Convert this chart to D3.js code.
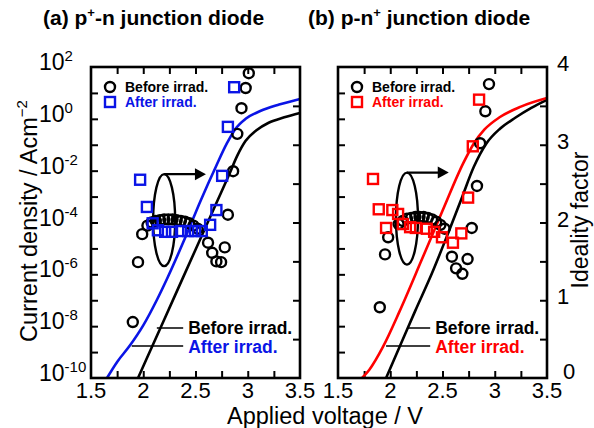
<!DOCTYPE html>
<html>
<head>
<meta charset="utf-8">
<script src="https://cdn.jsdelivr.net/npm/d3@7"></script>
<style>
  body { margin: 0; background: #fff; }
  text { font-family: "Liberation Sans", Arial, sans-serif; }
</style>
</head>
<body>
<div id="chart"></div>
<script>
// tick labels
const voltTicks = [1.5, 2, 2.5, 3, 3.5];
const decadeLabels = [2, 0, -2, -4, -6, -8, -10];
const idealTicks = [0, 1, 2, 3, 4];

// (a) p+-n : ideality factor, before irradiation (circles)
const aBeforeV = [1.90, 1.95, 1.99, 2.04, 2.08, 2.12, 2.16, 2.20, 2.24, 2.28, 2.32, 2.36, 2.40, 2.44, 2.48, 2.52,
                  2.62, 2.66, 2.70, 2.745, 2.78, 2.81, 2.86, 2.90, 2.94, 2.98, 3.01];
const aBeforeN = [0.72, 1.49, 1.85, 1.96, 2.00, 2.02, 2.03, 2.04, 2.04, 2.04, 2.03, 2.02, 2.01, 1.99, 1.96, 1.92,
                  1.74, 1.61, 1.50, 1.49, 1.68, 2.10, 2.66, 3.14, 3.47, 3.73, 3.92];
// (a) ideality factor, after irradiation (squares)
const aAfterV = [1.97, 2.035, 2.09, 2.14, 2.21, 2.275, 2.36, 2.43, 2.495, 2.56, 2.64, 2.70, 2.755, 2.81, 2.87];
const aAfterN = [2.55, 2.20, 1.99, 1.90, 1.88, 1.88, 1.89, 1.89, 1.89, 1.89, 1.97, 2.16, 2.60, 3.23, 3.74];
// (a) current density curves, log10(J)
const aBeforeCurveV = [1.95, 2.1, 2.3, 2.5, 2.7, 2.82, 2.9, 2.98, 3.08, 3.2, 3.35, 3.5];
const aBeforeCurveJ = [-10, -8.65, -6.85, -5.05, -3.25, -2.17, -1.42, -0.85, -0.45, -0.15, 0.06, 0.23];
const aAfterCurveV = [1.653, 1.75, 1.87, 2.0, 2.13, 2.23, 2.4, 2.55, 2.7, 2.8, 2.88, 2.98, 3.12, 3.3, 3.5];
const aAfterCurveJ = [-10, -9.38, -8.76, -7.97, -6.99, -6.15, -4.6, -3.15, -1.8, -0.95, -0.4, 0.0, 0.3, 0.55, 0.77];

// (b) p-n+ : ideality factor, before irradiation (circles)
const bBeforeV = [1.90, 1.95, 1.98, 2.08, 2.12, 2.16, 2.20, 2.24, 2.28, 2.32, 2.36, 2.40, 2.44, 2.48, 2.52,
                  2.59, 2.63, 2.69, 2.74, 2.78, 2.83, 2.86, 2.91, 2.945];
const bBeforeN = [0.91, 1.59, 1.81, 1.98, 2.02, 2.05, 2.06, 2.07, 2.07, 2.07, 2.06, 2.04, 2.01, 1.97, 1.92,
                  1.56, 1.41, 1.34, 1.53, 1.93, 2.47, 3.02, 3.43, 3.78];
// (b) ideality factor, after irradiation (squares)
const bAfterV = [1.835, 1.89, 1.96, 2.02, 2.075, 2.12, 2.19, 2.245, 2.35, 2.42, 2.495, 2.60, 2.68, 2.745, 2.79, 2.85];
const bAfterN = [2.56, 2.17, 1.93, 2.16, 2.11, 1.98, 1.94, 1.93, 1.92, 1.88, 1.81, 1.74, 1.86, 2.32, 2.98, 3.58];
// (b) current density curves, log10(J)
const bBeforeCurveV = [1.96, 2.1, 2.24, 2.4, 2.55, 2.68, 2.8, 2.92, 3.05, 3.2, 3.35, 3.5];
const bBeforeCurveJ = [-10, -8.7, -7.4, -5.95, -4.45, -3.1, -1.85, -0.95, -0.38, 0.05, 0.42, 0.73];
const bAfterCurveV = [1.73, 1.8, 1.93, 2.09, 2.3, 2.5, 2.7, 2.8, 2.9, 3.05, 3.25, 3.5];
const bAfterCurveJ = [-10, -9.68, -8.8, -7.42, -5.45, -3.55, -1.7, -0.95, -0.42, 0.07, 0.47, 0.8];

const W = 594, H = 428;
const plotTop = 67, plotBottom = 378;

const svg = d3.select("#chart").append("svg")
  .attr("width", W).attr("height", H);
svg.append("rect").attr("width", W).attr("height", H).attr("fill", "#fff");

const yJ = d3.scaleLog().domain([1e-10, 1e2]).range([plotBottom, plotTop]);
const yN = d3.scaleLinear().domain([0, 4]).range([plotBottom, plotTop]);

function zip(a, b) { return a.map(function(d, i) { return [d, b[i]]; }); }

function drawPanel(p) {
  var x = d3.scaleLinear().domain([1.5, 3.5]).range(p.range);
  var g = svg.append("g");
  var x0 = p.range[0], x1 = p.range[1];

  // ticks (all inward)
  var tk = function(sel) {
    sel.select(".domain").remove();
    sel.selectAll(".tick line").attr("stroke", "#000").attr("stroke-width", 2);
  };
  g.append("g").attr("transform", "translate(0," + plotBottom + ")")
    .call(d3.axisBottom(x).tickValues(d3.range(1.75, 3.5, 0.25)).tickSize(-7).tickFormat("")).call(tk);
  g.append("g").attr("transform", "translate(0," + plotTop + ")")
    .call(d3.axisTop(x).tickValues(d3.range(1.75, 3.5, 0.25)).tickSize(-7).tickFormat("")).call(tk);
  g.append("g").attr("transform", "translate(" + x0 + ",0)")
    .call(d3.axisLeft(yJ).tickValues(d3.range(-9, 2).map(function(e) { return Math.pow(10, e); }))
      .tickSize(-7).tickFormat("")).call(tk);
  g.append("g").attr("transform", "translate(" + x1 + ",0)")
    .call(d3.axisRight(yN).tickValues(d3.range(0.5, 4, 0.5)).tickSize(-7).tickFormat("")).call(tk);

  // curves
  var line = d3.line()
    .x(function(d) { return x(d[0]); })
    .y(function(d) { return yJ(Math.pow(10, d[1])); })
    .curve(d3.curveMonotoneX);
  g.append("path").datum(zip(p.beforeCurveV, p.beforeCurveJ))
    .attr("d", line).attr("fill", "none").attr("stroke", "#000").attr("stroke-width", 2.6);
  g.append("path").datum(zip(p.afterCurveV, p.afterCurveJ))
    .attr("d", line).attr("fill", "none").attr("stroke", p.color).attr("stroke-width", 2.6);

  // rotation annotation
  var cx = x(p.loop[0]), cy = yN(p.loop[1]);
  g.append("ellipse").attr("cx", cx).attr("cy", cy).attr("rx", 11).attr("ry", 46)
    .attr("fill", "none").attr("stroke", "#000").attr("stroke-width", 2.4);
  var ax1 = x(p.loop[2]);
  g.append("line").attr("x1", cx).attr("x2", ax1 - 8).attr("y1", cy - 46).attr("y2", cy - 46)
    .attr("stroke", "#000").attr("stroke-width", 2.4);
  g.append("path")
    .attr("d", "M" + ax1 + "," + (cy - 46) + "L" + (ax1 - 11) + "," + (cy - 52) + "L" + (ax1 - 11) + "," + (cy - 40) + "Z")
    .attr("fill", "#000");

  // ideality factor markers
  g.selectAll(".circ").data(zip(p.beforeV, p.beforeN)).join("circle")
    .attr("cx", function(d) { return x(d[0]); })
    .attr("cy", function(d) { return yN(d[1]); })
    .attr("r", 5).attr("fill", "none").attr("stroke", "#000").attr("stroke-width", 2.4);
  g.selectAll(".sq").data(zip(p.afterV, p.afterN)).join("rect")
    .attr("x", function(d) { return x(d[0]) - 5; })
    .attr("y", function(d) { return yN(d[1]) - 5; })
    .attr("width", 10).attr("height", 10)
    .attr("fill", "none").attr("stroke", p.color).attr("stroke-width", 2.4);

  // frame
  g.append("rect").attr("x", x0).attr("y", plotTop).attr("width", x1 - x0).attr("height", plotBottom - plotTop)
    .attr("fill", "none").attr("stroke", "#000").attr("stroke-width", 2.6);

  // x tick labels
  g.selectAll(".xl").data(voltTicks).join("text")
    .attr("x", function(d) { return x(d); }).attr("y", plotBottom + 20)
    .attr("text-anchor", "middle").attr("font-size", 22).text(function(d) { return d; });

  // legend
  g.append("circle").attr("cx", x0 + 19).attr("cy", 87).attr("r", 5)
    .attr("fill", "none").attr("stroke", "#000").attr("stroke-width", 2.4);
  g.append("rect").attr("x", x0 + 14).attr("y", 97).attr("width", 10).attr("height", 10)
    .attr("fill", "none").attr("stroke", p.color).attr("stroke-width", 2.4);
  g.append("text").attr("x", x0 + 34).attr("y", 92).attr("font-size", 14).attr("font-weight", "bold")
    .text("Before irrad.");
  g.append("text").attr("x", x0 + 34).attr("y", 107).attr("font-size", 14).attr("font-weight", "bold")
    .attr("fill", p.color).text("After irrad.");

  // curve labels
  var lx = x(p.labelV);
  g.append("line").attr("x1", x(p.leadBefore)).attr("x2", lx - 5).attr("y1", 328).attr("y2", 328)
    .attr("stroke", "#000").attr("stroke-width", 1.5);
  g.append("line").attr("x1", x(p.leadAfter)).attr("x2", lx - 5).attr("y1", 346).attr("y2", 346)
    .attr("stroke", "#000").attr("stroke-width", 1.5);
  g.append("text").attr("x", lx).attr("y", 334).attr("font-size", 17.5).attr("font-weight", "bold")
    .text("Before irrad.");
  g.append("text").attr("x", lx).attr("y", 353).attr("font-size", 17.5).attr("font-weight", "bold")
    .attr("fill", p.color).text("After irrad.");

  // title
  var t = g.append("text").attr("x", x0 - p.titleOff).attr("y", 25)
    .attr("font-size", 21).attr("font-weight", "bold");
  t.append("tspan").text(p.title[0]);
  t.append("tspan").attr("dy", -8).attr("font-size", 13).text("+");
  t.append("tspan").attr("dy", 8).text(p.title[1]);
}

drawPanel({
  range: [91, 300], color: "#0a14e6",
  beforeV: aBeforeV, beforeN: aBeforeN, afterV: aAfterV, afterN: aAfterN,
  beforeCurveV: aBeforeCurveV, beforeCurveJ: aBeforeCurveJ,
  afterCurveV: aAfterCurveV, afterCurveJ: aAfterCurveJ,
  loop: [2.2, 2.03, 2.6], labelV: 2.43, leadBefore: 2.13, leadAfter: 1.89,
  title: ["(a) p", "-n junction diode"], titleOff: 48
});

drawPanel({
  range: [338, 547], color: "#ff0000",
  beforeV: bBeforeV, beforeN: bBeforeN, afterV: bAfterV, afterN: bAfterN,
  beforeCurveV: bBeforeCurveV, beforeCurveJ: bBeforeCurveJ,
  afterCurveV: bAfterCurveV, afterCurveJ: bAfterCurveJ,
  loop: [2.16, 2.05, 2.56], labelV: 2.43, leadBefore: 2.17, leadAfter: 1.96,
  title: ["(b) p-n", " junction diode"], titleOff: 30
});

// left log axis labels
decadeLabels.forEach(function(e) {
  var t = svg.append("text").attr("x", 39).attr("y", yJ(Math.pow(10, e)) + 3).attr("font-size", 23);
  t.append("tspan").text("10");
  t.append("tspan").attr("dy", -9).attr("font-size", 15).text(e);
});

// right ideality labels
svg.selectAll(".nl").data(idealTicks).join("text")
  .attr("x", function(d) { return d === 0 ? 563 : 557; })
  .attr("y", function(d) { return yN(d) + (d === 0 ? 1 : 4); })
  .attr("font-size", 22).text(function(d) { return d; });

// axis titles
var yl = svg.append("text").attr("transform", "translate(37,221) rotate(-90)")
  .attr("text-anchor", "middle").attr("font-size", 23.5);
yl.append("tspan").text("Current density / Acm");
yl.append("tspan").attr("dy", -10).attr("font-size", 15).text("\u22122");

svg.append("text").attr("transform", "translate(588,220) rotate(-90)")
  .attr("text-anchor", "middle").attr("font-size", 23).text("Ideality factor");

svg.append("text").attr("x", 325).attr("y", 424).attr("text-anchor", "middle")
  .attr("font-size", 23.5).text("Applied voltage / V");
</script>
</body>
</html>
